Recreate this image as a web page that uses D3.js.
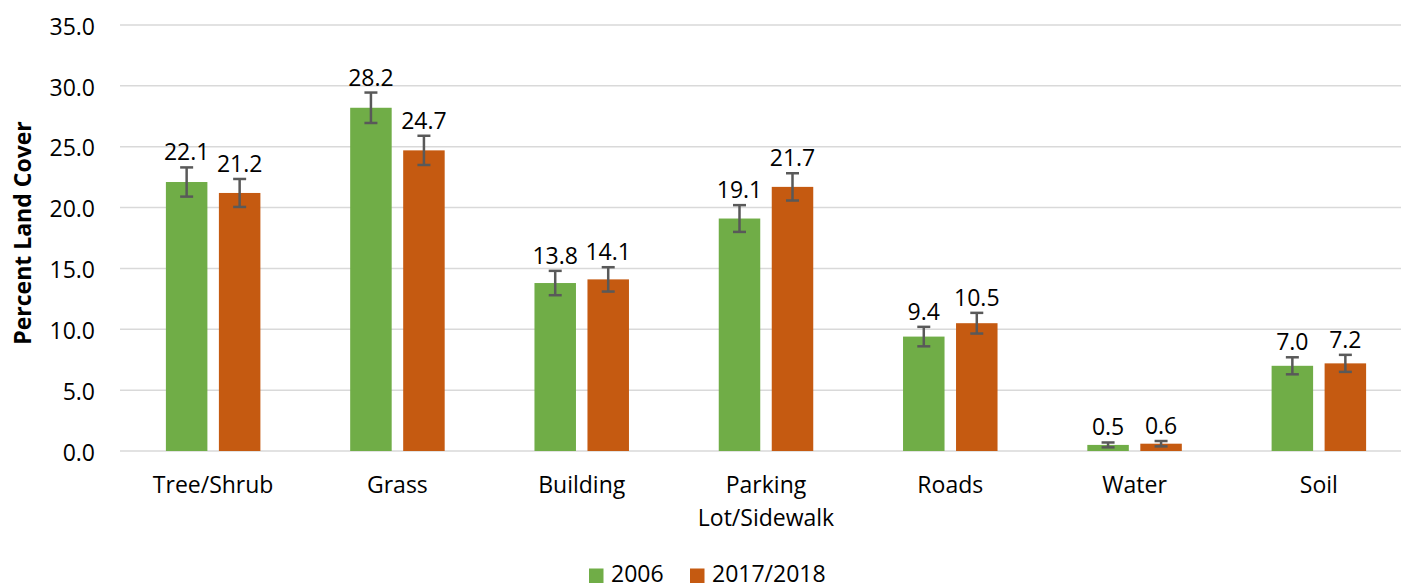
<!DOCTYPE html>
<html>
<head>
<meta charset="utf-8">
<script src="https://cdn.jsdelivr.net/npm/d3@7"></script>
<style>
  body { margin: 0; background: #fff; }
  svg { display: block; font-family: "Open Sans", "Noto Sans", sans-serif; }
</style>
</head>
<body>
<svg id="chart" width="1401" height="588"></svg>
<script>
// Land cover categories and survey periods
const categories = ["Tree/Shrub", "Grass", "Building", "Parking\nLot/Sidewalk", "Roads", "Water", "Soil"];
const seriesNames = ["2006", "2017/2018"];
const values2006 = [22.1, 28.2, 13.8, 19.1, 9.4, 0.5, 7.0];
const values2017 = [21.2, 24.7, 14.1, 21.7, 10.5, 0.6, 7.2];
// Error margins (±) for each bar
const err2006 = [1.2, 1.25, 1.0, 1.1, 0.8, 0.2, 0.7];
const err2017 = [1.15, 1.2, 1.0, 1.12, 0.85, 0.22, 0.7];
const yTicks = [0, 5, 10, 15, 20, 25, 30, 35];

const colors = ["#70AD47", "#C55A11"];
const fontSize = 23;

const W = 1401, H = 588;
const svg = d3.select("#chart");

const x = d3.scaleBand().domain(categories).range([121, 1411]).paddingInner(0).paddingOuter(0);
const y = d3.scaleLinear().domain([0, 35]).range([451, 25]);

// Horizontal gridlines
svg.append("g")
  .selectAll("line")
  .data(yTicks)
  .join("line")
  .attr("x1", 120).attr("x2", W)
  .attr("y1", d => y(d)).attr("y2", d => y(d))
  .attr("stroke", "#d9d9d9").attr("stroke-width", 1.5);

// Y axis tick labels
const yAxis = d3.axisLeft(y).tickValues(yTicks).tickFormat(d3.format(".1f")).tickSize(0).tickPadding(0);
const yg = svg.append("g").attr("transform", "translate(95,0)").call(yAxis);
yg.select(".domain").remove();
yg.selectAll("text")
  .attr("font-size", fontSize).attr("fill", "#000")
  .attr("font-family", "Open Sans, sans-serif")
  .attr("dy", "0.4em");

// Y axis title
svg.append("text")
  .attr("transform", "translate(31,233) rotate(-90)")
  .attr("text-anchor", "middle")
  .attr("font-size", fontSize).attr("font-weight", "bold").attr("fill", "#000")
  .text("Percent Land Cover");

// Bar geometry within each band
const barW = 41.5, gap = 11.5;
const series = [
  { name: seriesNames[0], values: values2006, err: err2006, color: colors[0], offset: -(gap / 2 + barW / 2) },
  { name: seriesNames[1], values: values2017, err: err2017, color: colors[1], offset: (gap / 2 + barW / 2) }
];

const cx = c => x(c) + x.bandwidth() / 2;

series.forEach(s => {
  const g = svg.append("g");
  const data = categories.map((c, i) => ({ c, v: s.values[i], e: s.err[i] }));
  g.selectAll("rect").data(data).join("rect")
    .attr("x", d => cx(d.c) + s.offset - barW / 2)
    .attr("width", barW)
    .attr("y", d => y(d.v))
    .attr("height", d => y(0) - y(d.v))
    .attr("fill", s.color);

  // Error bars with caps
  const eb = g.selectAll("g.eb").data(data).join("g").attr("class", "eb")
    .attr("stroke", "#595959").attr("stroke-width", 2.5);
  eb.append("line")
    .attr("x1", d => cx(d.c) + s.offset).attr("x2", d => cx(d.c) + s.offset)
    .attr("y1", d => y(d.v + d.e)).attr("y2", d => y(d.v - d.e));
  eb.append("line")
    .attr("x1", d => cx(d.c) + s.offset - 6.5).attr("x2", d => cx(d.c) + s.offset + 6.5)
    .attr("y1", d => y(d.v + d.e)).attr("y2", d => y(d.v + d.e));
  eb.append("line")
    .attr("x1", d => cx(d.c) + s.offset - 6.5).attr("x2", d => cx(d.c) + s.offset + 6.5)
    .attr("y1", d => y(d.v - d.e)).attr("y2", d => y(d.v - d.e));

  // Value labels above the error bars
  g.selectAll("text").data(data).join("text")
    .attr("x", d => cx(d.c) + s.offset)
    .attr("y", d => y(d.v + d.e) - 7)
    .attr("text-anchor", "middle")
    .attr("font-size", fontSize).attr("fill", "#000")
    .text(d => d.v.toFixed(1));
});

// Category labels (multi-line where needed)
const catG = svg.append("g");
categories.forEach(c => {
  const lines = c.split("\n");
  const t = catG.append("text")
    .attr("x", cx(c)).attr("y", 493)
    .attr("text-anchor", "middle").attr("font-size", fontSize).attr("fill", "#000");
  lines.forEach((ln, i) => {
    t.append("tspan").attr("x", cx(c)).attr("dy", i === 0 ? 0 : 33).text(ln);
  });
});

// Legend
const legend = svg.append("g");
const legendItems = [
  { name: seriesNames[0], color: colors[0], x: 589 },
  { name: seriesNames[1], color: colors[1], x: 690 }
];
legendItems.forEach(it => {
  legend.append("rect").attr("x", it.x).attr("y", 568.5).attr("width", 14.5).attr("height", 14.5).attr("fill", it.color);
  legend.append("text").attr("x", it.x + 22).attr("y", 582).attr("font-size", fontSize).attr("fill", "#000").text(it.name);
});
</script>
</body>
</html>
